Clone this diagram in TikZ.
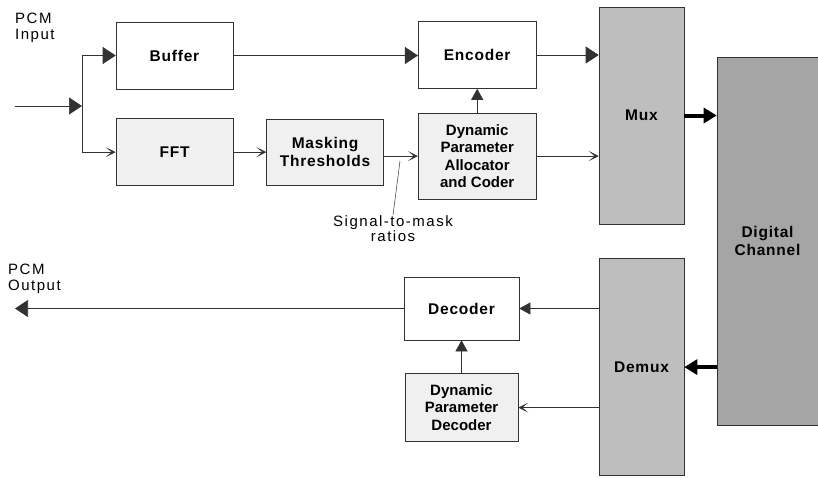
\documentclass[tikz,border=0pt]{standalone}
\usepackage{fontspec}
\setmainfont{Liberation Sans}
\newfontfamily\spaced[LetterSpace=10]{Liberation Sans}
\newfontfamily\boxfont[LetterSpace=5]{Liberation Sans}
\usetikzlibrary{arrows.meta, positioning}
\definecolor{codecline}{RGB}{50,50,50}
\definecolor{stipple}{RGB}{240,240,240}
\definecolor{muxgray}{RGB}{190,190,190}
\definecolor{changray}{RGB}{165,165,165}

\begin{document}
\begin{tikzpicture}[x=1pt, y=-1pt,
  box/.style={rectangle, draw=codecline, line width=0.6pt, fill=#1,
              minimum width=117pt, minimum height=67pt, inner sep=2pt,
              align=center, font=\boxfont\bfseries\fontsize{15.5}{17.4}\selectfont},
  box/.default=white,
  dpbox/.style={box=stipple, font=\bfseries\fontsize{15}{17.4}\selectfont},
  tall/.style={box=#1, minimum width=85pt, minimum height=217pt},
  lbl/.style={inner sep=0pt, align=left, font=\spaced\fontsize{15}{15.7}\selectfont},
  arr/.style={draw=codecline, line width=0.6pt, -{Triangle[length=13pt, width=17pt]}},
  sarr/.style={draw=codecline, line width=0.6pt, -{Triangle[length=11pt, width=12pt]}},
  oarr/.style={draw=codecline, line width=0.6pt, -{Stealth[length=10pt, width=10pt, inset=6pt]}},
  fat/.style={draw=black, line width=4pt, -{Triangle[length=13pt, width=15pt]}}
]
\useasboundingbox (0,0) rectangle (818,477);

%% Encoder side
\node[box] (buffer) at (174.5,55.5) {Buffer};
\node[box=stipple, below=29pt of buffer] (fft) {FFT};
\node[box=stipple, minimum height=66pt, right=33pt of fft] (mask) {Masking\\Thresholds};
\node[dpbox, minimum width=118pt, minimum height=86pt, right=34pt of mask, yshift=-4pt] (dpac)
     {Dynamic\\Parameter\\Allocator\\and Coder};
\node[box, minimum width=118pt, above=24pt of dpac] (encoder) {Encoder};

\node[lbl, anchor=north west] (pcmin) at (15,13) {PCM\\Input};
\coordinate (in) at (15,106);
\coordinate (split) at (82,106);
\draw[arr] (in) -- (split);
\draw[arr] (split) |- (buffer.west);
\draw[oarr] (split) |- (fft.west);
\draw[oarr] (fft) -- (mask);
\draw[oarr] (mask.east |- dpac.west) -- (dpac.west);
\draw[arr] (buffer.east) -- (buffer.east -| encoder.west);
\draw[sarr] (dpac) -- (encoder);

\node[lbl, align=center, anchor=north] (smr) at (393,215) {Signal-to-mask\\ratios};
\coordinate (smrtip) at (400,161);
\draw[codecline, line width=0.5pt] (smr.north) -- (smrtip);

%% Mux, channel, demux
\node[tall=muxgray] (mux) at (641.5,115.5) {Mux};
\node[tall=muxgray, below=34pt of mux] (demux) {Demux};
\node[tall=changray, minimum width=101pt, minimum height=368pt] (channel) at (767.5,241)
     {Digital\\Channel};
\draw[arr] (encoder.east) -- (encoder.east -| mux.west);
\draw[oarr] (dpac.east) -- (dpac.east -| mux.west);
\draw[fat] (mux.east) -- (mux.east -| channel.west);
\draw[fat] (demux.east -| channel.west) -- (demux.east);

%% Decoder side
\node[box, minimum width=115pt, minimum height=63pt] (decoder) at (461.5,308.5) {Decoder};
\node[dpbox, minimum width=113pt, minimum height=68pt, below=33pt of decoder] (dpd)
     {Dynamic\\Parameter\\Decoder};
\draw[sarr] (decoder.east -| demux.west) -- (decoder.east);
\draw[oarr] (dpd.east -| demux.west) -- (dpd.east);
\draw[sarr] (dpd) -- (decoder);

\node[lbl, anchor=north west] (pcmout) at (8,264) {PCM\\Output};
\coordinate (out) at (15,308.5);
\draw[arr] (decoder.west) -- (out);
\end{tikzpicture}
\end{document}
